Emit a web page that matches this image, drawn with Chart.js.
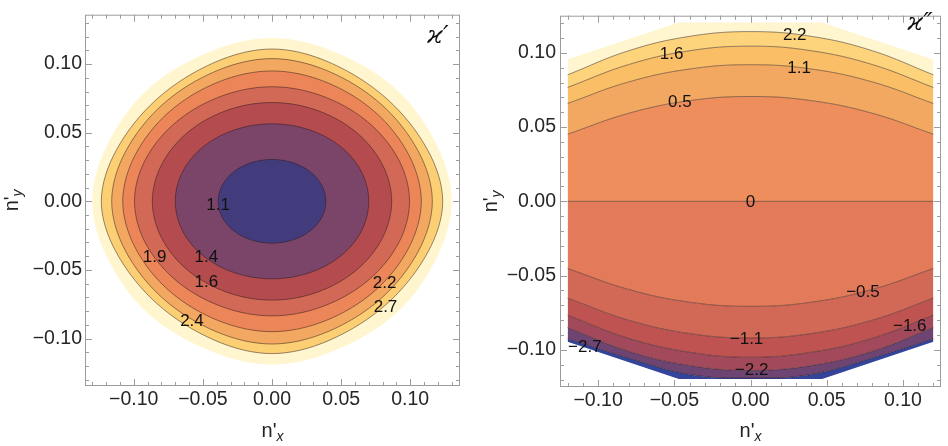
<!DOCTYPE html>
<html>
<head>
<meta charset="utf-8">
<script src="https://cdn.jsdelivr.net/npm/chart.js@4.4.1/dist/chart.umd.min.js"></script>
<style>
    html, body { margin: 0; padding: 0; background: #fff; }
    #wrap { position: relative; width: 948px; height: 446px; overflow: hidden; }
    .panel { position: absolute; top: 0; width: 474px; height: 446px; }
</style>
</head>
<body>
<div id="wrap">
    <div class="panel" style="left:0"><canvas id="leftChart" width="474" height="446"></canvas></div>
    <div class="panel" style="left:474px"><canvas id="rightChart" width="474" height="446"></canvas></div>
</div>
<script>
// ── data ─────────────────────────────────────────────────────────────────

const tickValues = [-0.10, -0.05, 0, 0.05, 0.10];

// left panel: closed contours, outermost first (edge of the domain, then 2.7 ... 1.1)
const leftLevels = ['edge', '2.7', '2.4', '2.2', '1.9', '1.6', '1.4', '1.1'];

const cEdge = [[0.130,0],[0.1195,0.0405],[0.0895,0.0820],[0.0442,0.1093],[0,0.119],[-0.0442,0.1093],[-0.0895,0.0820],[-0.1195,0.0405],[-0.130,0],[-0.1195,-0.0405],[-0.0895,-0.0820],[-0.0442,-0.1093],[0,-0.119],[0.0442,-0.1093],[0.0895,-0.0820],[0.1195,-0.0405]];
const c27 = [[0.1235,0],[0.1128,0.0370],[0.0831,0.0747],[0.0412,0.1014],[0,0.111],[-0.0412,0.1014],[-0.0831,0.0747],[-0.1128,0.0370],[-0.1235,0],[-0.1128,-0.0370],[-0.0831,-0.0747],[-0.0412,-0.1014],[0,-0.111],[0.0412,-0.1014],[0.0831,-0.0747],[0.1128,-0.0370]];
const c24 = [[0.116,0],[0.1062,0.0358],[0.0789,0.0708],[0.0399,0.0952],[0,0.104],[-0.0399,0.0952],[-0.0789,0.0708],[-0.1062,0.0358],[-0.116,0],[-0.1062,-0.0358],[-0.0789,-0.0708],[-0.0399,-0.0952],[0,-0.104],[0.0399,-0.0952],[0.0789,-0.0708],[0.1062,-0.0358]];
const c22 = [[0.108,0],[0.0991,0.0336],[0.0743,0.0653],[0.0382,0.0872],[0,0.095],[-0.0382,0.0872],[-0.0743,0.0653],[-0.0991,0.0336],[-0.108,0],[-0.0991,-0.0336],[-0.0743,-0.0653],[-0.0382,-0.0872],[0,-0.095],[0.0382,-0.0872],[0.0743,-0.0653],[0.0991,-0.0336]];
const c19 = [[0.0995,0],[0.0916,0.0304],[0.0691,0.0580],[0.0362,0.0768],[0,0.0835],[-0.0362,0.0768],[-0.0691,0.0580],[-0.0916,0.0304],[-0.0995,0],[-0.0916,-0.0304],[-0.0691,-0.0580],[-0.0362,-0.0768],[0,-0.0835],[0.0362,-0.0768],[0.0691,-0.0580],[0.0916,-0.0304]];
const c16 = [[0.0866,0],[0.0798,0.0269],[0.0607,0.0505],[0.0323,0.0664],[0,0.072],[-0.0323,0.0664],[-0.0607,0.0505],[-0.0798,0.0269],[-0.0866,0],[-0.0798,-0.0269],[-0.0607,-0.0505],[-0.0323,-0.0664],[0,-0.072],[0.0323,-0.0664],[0.0607,-0.0505],[0.0798,-0.0269]];
const c14 = [[0.070,0],[0.0647,0.0216],[0.0495,0.0400],[0.0268,0.0522],[0,0.0565],[-0.0268,0.0522],[-0.0495,0.0400],[-0.0647,0.0216],[-0.070,0],[-0.0647,-0.0216],[-0.0495,-0.0400],[-0.0268,-0.0522],[0,-0.0565],[0.0268,-0.0522],[0.0495,-0.0400],[0.0647,-0.0216]];
const c11 = [[0.039,0],[0.0360,0.0117],[0.0276,0.0216],[0.0149,0.0282],[0,0.0305],[-0.0149,0.0282],[-0.0276,0.0216],[-0.0360,0.0117],[-0.039,0],[-0.0360,-0.0117],[-0.0276,-0.0216],[-0.0149,-0.0282],[0,-0.0305],[0.0149,-0.0282],[0.0276,-0.0216],[0.0360,-0.0117]];

const leftLabels = ['1.1', '1.4', '1.6', '1.9', '2.2', '2.4', '2.7'];
const leftLabelX = [-0.039, -0.0475, -0.0475, -0.0849, 0.0815, -0.0579, 0.0821];
const leftLabelY = [-0.0029, -0.0405, -0.0591, -0.0405, -0.0598, -0.0873, -0.0772];

// right panel: open contours across the domain, top to bottom
const domainX = [-0.12, -0.047, 0.047, 0.12];
const domainTop = [0.0957, 0.1205, 0.1205, 0.0955];
const domainBottom = [-0.0945, -0.1196, -0.1196, -0.0945];

const lineX = [-0.12, -0.08, -0.04, 0, 0.04, 0.08, 0.12];
const r22 = [0.0852, 0.1014, 0.1111, 0.1143, 0.1111, 0.1014, 0.0852];
const r16 = [0.0767, 0.0921, 0.1014, 0.1045, 0.1014, 0.0921, 0.0767];
const r11 = [0.0659, 0.0804, 0.0891, 0.0920, 0.0891, 0.0804, 0.0659];
const r05 = [0.0452, 0.0593, 0.0678, 0.0706, 0.0678, 0.0593, 0.0452];
const r00 = [0, 0, 0, 0, 0, 0, 0];
const rm05 = [-0.0452, -0.0593, -0.0679, -0.0707, -0.0679, -0.0593, -0.0452];
const rm11 = [-0.0652, -0.0800, -0.0890, -0.0920, -0.0890, -0.0800, -0.0652];
const rm16 = [-0.0767, -0.0922, -0.1016, -0.1050, -0.1016, -0.0922, -0.0767];
const rm22 = [-0.0850, -0.1010, -0.1106, -0.1139, -0.1106, -0.1010, -0.0850];
const rm27 = [-0.0925, -0.1055, -0.1165, -0.1190, -0.1165, -0.1055, -0.0925];

const rightLabels = ['2.2', '1.6', '1.1', '0.5', '0', '\u22120.5', '\u22121.6', '\u22121.1', '\u22122.2', '\u22122.7'];
const rightLabelX = [0.029, -0.0518, 0.0319, -0.0464, 0, 0.0738, 0.1045, -0.0026, 0.0007, -0.1087];
const rightLabelY = [0.1121, 0.099, 0.0898, 0.0669, -0.0004, -0.0614, -0.0839, -0.0927, -0.1139, -0.0982];

// ── styles ───────────────────────────────────────────────────────────────

const LINE = 'rgba(40,25,25,0.55)';
const FONT = '"Liberation Sans", Arial, sans-serif';

const leftFills = ['#fff6cf', '#fdcf74', '#f3a862', '#ec8558', '#d26856', '#b34b4f', '#7a4569', '#433c7c'];
const rightFills = ['#fff6cf', '#fdd37b', '#f9be66', '#f3a862', '#ee8e5c', '#e37a59', '#d26957', '#be5352', '#a24a5c', '#6e4572', '#33449a'];

function fmtTick(v) {
    if (Math.abs(v) < 1e-9) return '0.00';
    return (v < 0 ? '\u2212' : '') + Math.abs(v).toFixed(2);
}

function toPoints(pairs) {
    return pairs.map(([x, y]) => ({ x, y }));
}

function zipPoints(xs, ys) {
    return xs.map((x, i) => ({ x, y: ys[i] }));
}

// closed contours: let the line element wrap around like a radar line,
// so the spline has no corner where the loop starts and ends
const closedLoopPlugin = {
    id: 'closedLoop',
    afterDatasetUpdate(chart, args) {
        const line = args.meta.dataset;
        if (!line) return;
        line._loop = true;
        line._fullLoop = true;
        line._pointsUpdated = false;
        delete line._segments;
        delete line._path;
    }
};

// frame with inward Mathematica-style ticks, contour labels and axis titles
const decorPlugin = {
    id: 'decor',
    afterDraw(chart, args, opts) {
        const { ctx, chartArea: a, scales: { x, y } } = chart;

        ctx.save();
        ctx.strokeStyle = '#9c9c9c';
        ctx.lineWidth = 1;
        ctx.strokeRect(a.left + 0.5, a.top + 0.5, a.right - a.left - 1, a.bottom - a.top - 1);

        ctx.beginPath();
        for (let i = -14; i <= 14; i++) {
            const v = i / 100;
            const len = i % 5 === 0 ? 7 : 4;
            if (v > x.min && v < x.max) {
                const px = Math.round(x.getPixelForValue(v)) + 0.5;
                ctx.moveTo(px, a.bottom); ctx.lineTo(px, a.bottom - len);
                ctx.moveTo(px, a.top); ctx.lineTo(px, a.top + len);
            }
            if (v > y.min && v < y.max) {
                const py = Math.round(y.getPixelForValue(v)) + 0.5;
                ctx.moveTo(a.left, py); ctx.lineTo(a.left + len, py);
                ctx.moveTo(a.right, py); ctx.lineTo(a.right - len, py);
            }
        }
        ctx.stroke();

        // contour value labels
        ctx.fillStyle = '#111';
        ctx.font = '17px ' + FONT;
        ctx.textAlign = 'center';
        ctx.textBaseline = 'middle';
        opts.labels.forEach((t, i) => {
            ctx.fillText(t, x.getPixelForValue(opts.lx[i]), y.getPixelForValue(opts.ly[i]));
        });

        // kappa tag in the top right corner
        ctx.font = 'italic 25px "DejaVu Serif", serif';
        ctx.fillText(opts.tag, opts.tagX, opts.tagY);

        // axis titles n'x and n'y
        drawTitle(ctx, (a.left + a.right) / 2, 437, false, 'x');
        drawTitle(ctx, opts.yTitleX, (a.top + a.bottom) / 2, true, 'y');
        ctx.restore();
    }
};

function drawTitle(ctx, cx, cy, rotate, sub) {
    ctx.save();
    ctx.translate(cx, cy);
    if (rotate) ctx.rotate(-Math.PI / 2);
    ctx.textAlign = 'left';
    ctx.textBaseline = 'alphabetic';
    ctx.fillStyle = '#222';
    ctx.font = '20px ' + FONT;
    const w1 = ctx.measureText("n'").width;
    ctx.font = 'italic 14px ' + FONT;
    const w2 = ctx.measureText(sub).width;
    const x0 = -(w1 + w2) / 2;
    ctx.font = '20px ' + FONT;
    ctx.fillText("n'", x0, 0);
    ctx.font = 'italic 14px ' + FONT;
    ctx.fillText(sub, x0 + w1, 4);
    ctx.restore();
}

function axis(min, max, size, isX, pad) {
    return {
        type: 'linear',
        min: min,
        max: max,
        grid: { display: false, drawTicks: false },
        border: { display: false },
        afterBuildTicks: s => { s.ticks = tickValues.map(v => ({ value: v })); },
        afterFit: s => { if (isX) s.height = size; else s.width = size; },
        ticks: {
            autoSkip: false,
            maxRotation: 0,
            padding: pad,
            color: '#262626',
            font: { family: FONT, size: 19.5 },
            callback: v => fmtTick(v)
        }
    };
}

function baseOptions(padding, xs, ys, decor, drawTime) {
    return {
        responsive: false,
        animation: false,
        events: [],
        layout: { padding: padding },
        scales: { x: xs, y: ys },
        elements: { point: { radius: 0 } },
        plugins: {
            legend: { display: false },
            tooltip: { enabled: false },
            filler: { drawTime: drawTime },
            decor: decor
        }
    };
}

// ── left panel ───────────────────────────────────────────────────────────

const leftShapes = [cEdge, c27, c24, c22, c19, c16, c14, c11];

new Chart(document.getElementById('leftChart'), {
    type: 'scatter',
    data: {
        datasets: leftShapes.map((pts, i) => ({
            label: leftLevels[i],
            data: toPoints(pts),
            showLine: true,
            tension: 0.34,
            fill: 'shape',
            backgroundColor: leftFills[i],
            borderColor: i === 0 ? 'rgba(0,0,0,0)' : LINE,
            borderWidth: i === 0 ? 0 : 0.9,
            order: leftShapes.length - i
        }))
    },
    options: baseOptions(
        { left: 0, right: 14, top: 12, bottom: 0 },
        axis(-0.1353, 0.1360, 60, true, 2),
        axis(-0.1346, 0.1360, 85, false, 3),
        { labels: leftLabels, lx: leftLabelX, ly: leftLabelY, tag: '\u03f0\u2032', tagX: 438, tagY: 36, yTitleX: 18 },
        'beforeDatasetDraw'
    ),
    plugins: [closedLoopPlugin, decorPlugin]
});

// ── right panel ──────────────────────────────────────────────────────────

const rightRows = [
    zipPoints(domainX, domainTop),
    zipPoints(lineX, r22),
    zipPoints(lineX, r16),
    zipPoints(lineX, r11),
    zipPoints(lineX, r05),
    zipPoints(lineX, r00),
    zipPoints(lineX, rm05),
    zipPoints(lineX, rm11),
    zipPoints(lineX, rm16),
    zipPoints(lineX, rm22),
    zipPoints(lineX, rm27),
    zipPoints(domainX, domainBottom)
];

new Chart(document.getElementById('rightChart'), {
    type: 'scatter',
    data: {
        datasets: rightRows.map((pts, i) => {
            const edge = i === 0 || i === rightRows.length - 1;
            return {
                data: pts,
                showLine: true,
                tension: edge ? 0 : 0.4,
                fill: i < rightRows.length - 1 ? '+1' : false,
                backgroundColor: rightFills[i] || 'rgba(0,0,0,0)',
                borderColor: edge ? 'rgba(0,0,0,0)' : LINE,
                borderWidth: edge ? 0 : 0.9
            };
        })
    },
    options: baseOptions(
        { left: 0, right: 7, top: 6, bottom: 0 },
        axis(-0.125, 0.125, 59, true, 2),
        axis(-0.125, 0.125, 86, false, 4),
        { labels: rightLabels, lx: rightLabelX, ly: rightLabelY, tag: '\u03f0\u2033', tagX: 446, tagY: 23, yTitleX: 23 },
        'beforeDatasetsDraw'
    ),
    plugins: [decorPlugin]
});
</script>
</body>
</html>
